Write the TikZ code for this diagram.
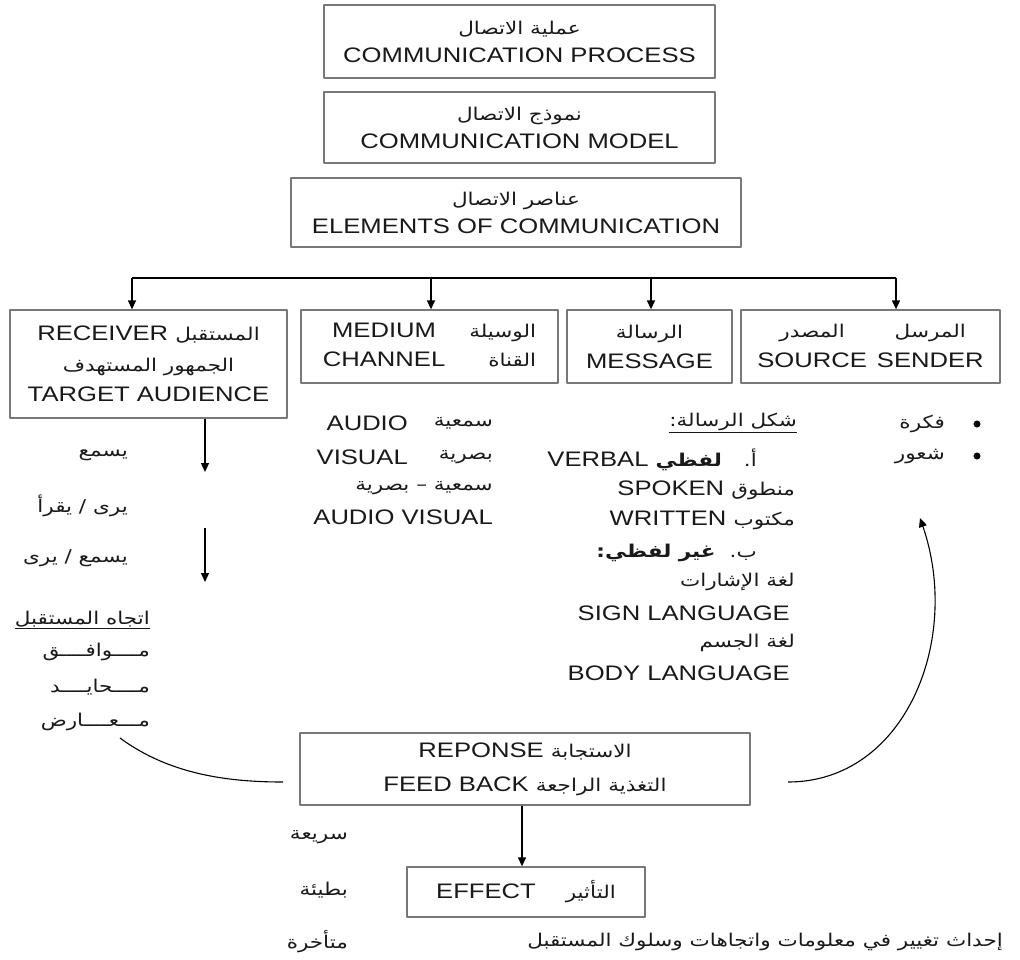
\documentclass[tikz,border=0pt]{standalone}
\usepackage{fontspec}
\setmainfont{Liberation Sans}[FakeStretch=1.22]
\newfontfamily\arabicfont[Script=Arabic,FakeStretch=1.22,Scale=0.84]{DejaVu Sans}
\TeXXeTstate=1
\usetikzlibrary{arrows.meta}
\definecolor{cmedge}{RGB}{120,120,120}
\definecolor{cmink}{RGB}{25,25,25}
\newcommand\ar[1]{{\arabicfont\beginR #1\endR}}
\tikzset{
  cmbox/.style={
    draw=cmedge, line width=1.3pt, align=center, inner sep=0pt,
    text=cmink, font=\fontsize{21}{28}\selectfont
  },
  lbl/.style={inner sep=0pt, text=cmink, font=\fontsize{21}{28}\selectfont},
  arr/.style={-{Triangle[length=9pt,width=8pt]}, draw=black, line width=1.3pt},
  fbk/.style={draw=black, line width=1.1pt},
  dot/.style={circle, fill=black, inner sep=0pt, minimum size=7pt},
  every picture/.append style={line join=round}
}

\begin{document}
\begin{tikzpicture}[x=1pt,y=-1pt]
  \useasboundingbox (0,0) rectangle (1020,959);
  \node[cmbox, minimum width=391, minimum height=73] (process) at (519.5,41.5)
    {\ar{عملية الاتصال}\\COMMUNICATION PROCESS};
  \node[cmbox, minimum width=391, minimum height=71] (model) at (519.5,127.5)
    {\ar{نموذج الاتصال}\\COMMUNICATION MODEL};
  \node[cmbox, minimum width=450, minimum height=69] (elements) at (516,212.5)
    {\ar{عناصر الاتصال}\\ELEMENTS OF COMMUNICATION};

  \node[cmbox, minimum width=277, minimum height=108, font=\fontsize{21}{30.5}\selectfont] (receiver) at (148.5,364)
    {RECEIVER \ar{المستقبل}\\\ar{الجمهور المستهدف}\\TARGET AUDIENCE};
  \node[cmbox, minimum width=257, minimum height=73, font=\fontsize{21}{29}\selectfont] (medium) at (429.5,346.5)
    {\begin{tabular}{@{}c@{\hspace{24pt}}r@{}}MEDIUM & \ar{الوسيلة}\\CHANNEL & \ar{القناة}\end{tabular}};
  \node[cmbox, minimum width=165, minimum height=73, font=\fontsize{21}{30}\selectfont] (message) at (649.5,346.5)
    {\ar{الرسالة}\\MESSAGE};
  \node[cmbox, minimum width=259, minimum height=73, font=\fontsize{21}{30}\selectfont] (source) at (870.5,346.5)
    {\begin{tabular}{@{}c@{\hspace{10pt}}c@{}}\ar{المصدر} & \ar{المرسل}\\SOURCE & SENDER\end{tabular}};

  \coordinate (bus1) at (132,278);
  \coordinate (bus2) at (431,278);
  \coordinate (bus3) at (651,278);
  \coordinate (bus4) at (896,278);
  \draw[line width=1.3pt] (bus1) -- (bus4);
  \draw[arr] (bus1) -- (bus1 |- receiver.north);
  \draw[arr] (bus2) -- (bus2 |- medium.north);
  \draw[arr] (bus3) -- (bus3 |- message.north);
  \draw[arr] (bus4) -- (bus4 |- source.north);

  % receiver column
  \coordinate (hear) at (205,528);
  \coordinate (hearend) at (205,582);
  \draw[arr] (receiver.south -| hear) -- (205,472);
  \draw[arr] (hear) -- (hearend);
  \node[lbl, anchor=east] (listen) at (128,455) {\ar{يسمع}};
  \node[lbl, anchor=east] (read) at (128,506) {\ar{يرى / يقرأ}};
  \node[lbl, anchor=east] (both) at (128,558) {\ar{يسمع / يرى}};
  \node[lbl, anchor=east] (attitude) at (150,620) {\underline{\ar{اتجاه المستقبل}}};
  \node[lbl, anchor=east] (agree) at (150,652) {\ar{مــــوافــــق}};
  \node[lbl, anchor=east] (neutral) at (150,687) {\ar{مــــحايــــد}};
  \node[lbl, anchor=east] (oppose) at (150,722) {\ar{مـــعــــارض}};

  % medium column
  \node[lbl, anchor=east] (audio) at (408,423) {AUDIO};
  \node[lbl, anchor=east] (audioar) at (493,423) {\ar{سمعية}};
  \node[lbl, anchor=east] (visual) at (408,457) {VISUAL};
  \node[lbl, anchor=east] (visualar) at (493,457) {\ar{بصرية}};
  \node[lbl, anchor=east] (avar) at (493,488) {\ar{سمعية – بصرية}};
  \node[lbl, anchor=east] (av) at (493,517) {AUDIO VISUAL};

  % message column
  \node[lbl, anchor=east] (form) at (797,423) {\underline{\ar{شكل الرسالة:}}};
  \node[lbl, anchor=east] (verbal) at (757,460) {VERBAL \ar{\bfseries لفظي}\hspace{22pt}\ar{أ.}};
  \node[lbl, anchor=east] (spoken) at (795,490) {SPOKEN \ar{منطوق}};
  \node[lbl, anchor=east] (written) at (795,520) {WRITTEN \ar{مكتوب}};
  \node[lbl, anchor=east] (nonverbal) at (757,553) {\ar{\bfseries غير لفظي:}\hspace{14pt}\ar{ب.}};
  \node[lbl, anchor=east] (signar) at (795,582) {\ar{لغة الإشارات}};
  \node[lbl, anchor=east] (sign) at (790,613) {SIGN LANGUAGE};
  \node[lbl, anchor=east] (bodyar) at (795,643) {\ar{لغة الجسم}};
  \node[lbl, anchor=east] (body) at (790,673) {BODY LANGUAGE};

  % source column
  \node[dot] (dot1) at (977,424) {};
  \node[dot] (dot2) at (977,456) {};
  \node[lbl, anchor=east] (idea) at (945,424) {\ar{فكرة}};
  \node[lbl, anchor=east] (feeling) at (945,456) {\ar{شعور}};

  % response and effect
  \node[cmbox, minimum width=450, minimum height=72] (response) at (525,769)
    {REPONSE \ar{الاستجابة}\\[6pt]FEED BACK \ar{التغذية الراجعة}};
  \node[cmbox, minimum width=238, minimum height=50] (effect) at (526,892)
    {EFFECT\hspace{30pt}\ar{التأثير}};
  \draw[arr] (response.south -| 522,0) -- (effect.north -| 522,0);

  \node[lbl, anchor=east] (fast) at (348,837) {\ar{سريعة}};
  \node[lbl, anchor=east] (slow) at (348,890) {\ar{بطيئة}};
  \node[lbl, anchor=east] (late) at (348,942) {\ar{متأخرة}};
  \node[lbl, anchor=east] (change) at (1003,942)
    {\ar{إحداث تغيير في معلومات واتجاهات وسلوك المستقبل}};

  \coordinate (fbl0) at (120,738);
  \coordinate (fbl1) at (283,782);
  \coordinate (fbr0) at (788,782);
  \coordinate (fbr1) at (920,518);
  \draw[fbk] (fbl0) .. controls (170,775) and (230,782) .. (fbl1);
  \draw[fbk, -{Triangle[length=9pt,width=8pt]}] (fbr0) .. controls (905,782) and (962,640) .. (fbr1);
\end{tikzpicture}
\end{document}
